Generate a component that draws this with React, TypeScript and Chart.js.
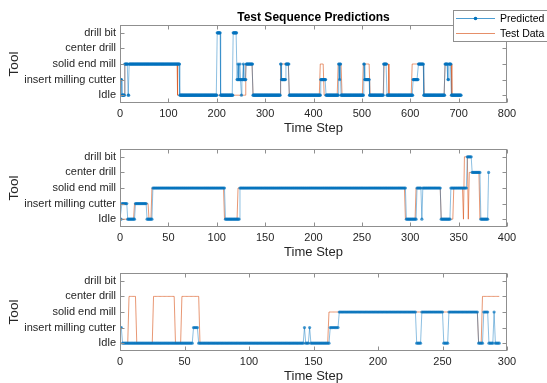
import React, { useEffect, useRef } from "react";
import { Chart, registerables } from "chart.js";

Chart.register(...registerables);

const FONT = '"Liberation Sans", Arial, Helvetica, sans-serif';

// y categories (value 1..5)
const TOOL_LABELS = ["Idle", "insert milling cutter", "solid end mill", "center drill", "drill bit"];
const TOOL_VALUES = [1, 2, 3, 4, 5];

// x axes
const X_MAX = [800, 400, 300];
const X_STEP = [100, 50, 50];

// Series as runs: [first time step, tool value]; each run holds until the next one starts
const pred1Runs = [
  [0, 2], [4, 1], [10, 3], [17, 1], [19, 3], [124, 1], [201, 5], [208, 1], [234, 5], [242, 2],
  [244, 3], [245, 2], [248, 3], [249, 2], [251, 1], [252, 2], [255, 3], [256, 2], [261, 3], [275, 1],
  [332, 3], [334, 2], [343, 3], [350, 1], [415, 2], [426, 1], [452, 3], [454, 2], [455, 3], [457, 1],
  [504, 3], [506, 2], [516, 1], [545, 3], [552, 1], [606, 2], [617, 3], [628, 1], [672, 3], [678, 2],
  [680, 3], [685, 1],
];
const test1Runs = [
  [0, 1], [10, 3], [119, 1], [260, 3], [275, 1], [332, 3], [350, 1], [414, 3], [422, 1], [451, 3],
  [459, 1], [503, 3], [517, 1], [546, 3], [556, 1], [604, 3], [629, 1], [672, 3], [686, 1],
];
const len1 = 706;

const pred2Runs = [
  [0, 1], [2, 2], [8, 1], [16, 2], [28, 1], [34, 3], [109, 1], [124, 3], [296, 1], [307, 3],
  [312, 1], [313, 3], [332, 1], [342, 3], [359, 5], [364, 4], [373, 1], [381, 4],
];
const test2Runs = [
  [0, 1], [15, 2], [30, 1], [33, 3], [108, 1], [122, 3], [295, 1], [306, 3], [332, 1], [345, 3],
  [355, 1], [356, 5], [360, 1], [361, 4], [372, 1],
];
const len2 = 382;

const pred3Runs = [
  [0, 2], [2, 1], [57, 2], [61, 1], [143, 2], [144, 1], [147, 2], [148, 1], [163, 2], [170, 3],
  [230, 1], [234, 3], [251, 1], [255, 3], [278, 1], [282, 3], [286, 1], [290, 3], [291, 1],
];
const test3Runs = [
  [0, 1], [7, 4], [13, 1], [26, 4], [43, 1], [48, 4], [62, 1], [162, 3], [278, 1], [281, 4],
];
const len3 = 295;

function expand(runs: number[][], len: number) {
  const out: { x: number; y: number }[] = [];
  let r = 0;
  for (let i = 0; i < len; i++) {
    while (r + 1 < runs.length && runs[r + 1][0] <= i) r++;
    out.push({ x: i, y: runs[r][1] });
  }
  return out;
}

const boxPlugin = {
  id: "matlabBox",
  afterDraw(chart: any) {
    const { ctx, chartArea: a, scales } = chart;
    ctx.save();
    ctx.strokeStyle = "#8f8f8f";
    ctx.lineWidth = 1;
    const L = Math.round(a.left) + 0.5;
    const R = Math.round(a.right) - 0.5;
    const T = Math.round(a.top) + 0.5;
    const B = Math.round(a.bottom) - 0.5;
    ctx.strokeRect(L, T, R - L, B - T);
    const tl = 4;
    ctx.beginPath();
    scales.x.ticks.forEach((t: any) => {
      const px = Math.round(scales.x.getPixelForValue(t.value)) + 0.5;
      ctx.moveTo(px, B);
      ctx.lineTo(px, B - tl);
      ctx.moveTo(px, T);
      ctx.lineTo(px, T + tl);
    });
    scales.y.ticks.forEach((t: any) => {
      const py = Math.round(scales.y.getPixelForValue(t.value)) + 0.5;
      ctx.moveTo(L, py);
      ctx.lineTo(L + tl, py);
      ctx.moveTo(R, py);
      ctx.lineTo(R - tl, py);
    });
    ctx.stroke();
    ctx.restore();
  },
};

const headerPlugin = {
  id: "header",
  afterDraw(chart: any) {
    const { ctx, chartArea: a } = chart;
    ctx.save();
    // title
    ctx.fillStyle = "#000";
    ctx.font = `bold 12px ${FONT}`;
    ctx.textAlign = "center";
    ctx.textBaseline = "middle";
    ctx.fillText("Test Sequence Predictions", (a.left + a.right) / 2, 17.5);
    // legend
    const bx = 453.5, by = 10.5, bw = 110, bh = 31;
    ctx.fillStyle = "#fff";
    ctx.fillRect(bx, by, bw, bh);
    ctx.strokeStyle = "#8f8f8f";
    ctx.lineWidth = 1;
    ctx.strokeRect(bx, by, bw, bh);
    const rows = [
      { y: 18.5, color: "rgba(0,114,189,0.7)", text: "Predicted", dot: true },
      { y: 33.5, color: "rgba(217,83,25,0.65)", text: "Test Data", dot: false },
    ];
    ctx.font = `10.5px ${FONT}`;
    ctx.textAlign = "left";
    rows.forEach((r) => {
      ctx.strokeStyle = r.color;
      ctx.beginPath();
      ctx.moveTo(456, r.y);
      ctx.lineTo(495, r.y);
      ctx.stroke();
      if (r.dot) {
        ctx.fillStyle = "#0072BD";
        ctx.beginPath();
        ctx.arc(475.5, r.y, 1.8, 0, Math.PI * 2);
        ctx.fill();
      }
      ctx.fillStyle = "#000";
      ctx.fillText(r.text, 500, r.y + 0.5);
    });
    ctx.restore();
  },
};

function makeConfig(pred: any[], test: any[], xMax: number, xStep: number, withHeader: boolean): any {
  return {
    type: "line",
    data: {
      datasets: [
        {
          label: "Predicted",
          data: pred,
          borderColor: "rgba(0,114,189,0.45)",
          borderWidth: 1,
          pointRadius: 1.6,
          pointBackgroundColor: "rgba(0,114,189,0.7)",
          pointBorderWidth: 0,
          pointHoverRadius: 0,
          tension: 0,
          order: 0,
        },
        {
          label: "Test Data",
          data: test,
          borderColor: "rgba(217,83,25,0.6)",
          borderWidth: 1,
          pointRadius: 0,
          pointHoverRadius: 0,
          tension: 0,
          order: 1,
        },
      ],
    },
    options: {
      responsive: false,
      maintainAspectRatio: false,
      animation: false,
      events: [],
      devicePixelRatio: 1,
      layout: { padding: { top: 25, right: 40, bottom: 0, left: 0 } },
      plugins: { legend: { display: false }, tooltip: { enabled: false }, title: { display: false } },
      scales: {
        x: {
          type: "linear",
          min: 0,
          max: xMax,
          ticks: {
            stepSize: xStep,
            color: "#262626",
            font: { family: FONT, size: 11 },
            padding: 4,
            maxRotation: 0,
            autoSkip: false,
          },
          grid: { display: false, drawTicks: false },
          border: { display: false },
          title: {
            display: true,
            text: "Time Step",
            color: "#262626",
            font: { family: FONT, size: 13 },
            padding: { top: 0, bottom: 0 },
          },
          afterFit: (s: any) => {
            s.height = 33;
          },
        },
        y: {
          type: "linear",
          min: 0.5,
          max: 5.5,
          afterBuildTicks: (s: any) => {
            s.ticks = TOOL_VALUES.map((v) => ({ value: v }));
          },
          ticks: {
            callback: (v: any) => TOOL_LABELS[Math.round(Number(v)) - 1] ?? "",
            color: "#262626",
            font: { family: FONT, size: 11 },
            padding: 4,
            autoSkip: false,
          },
          grid: { display: false, drawTicks: false },
          border: { display: false },
          title: {
            display: true,
            text: "Tool",
            color: "#262626",
            font: { family: FONT, size: 13.5 },
            padding: { top: 6, bottom: 0 },
          },
          afterFit: (s: any) => {
            s.width = 120;
          },
        },
      },
    },
    plugins: withHeader ? [boxPlugin, headerPlugin] : [boxPlugin],
  };
}

function SubPlot({ top, pred, test, xMax, xStep, header }: any) {
  const ref = useRef<HTMLCanvasElement>(null);
  useEffect(() => {
    if (!ref.current) return;
    const chart = new Chart(ref.current, makeConfig(pred, test, xMax, xStep, header));
    return () => chart.destroy();
  }, []);
  return (
    <canvas
      ref={ref}
      width={547}
      height={136}
      style={{ position: "absolute", left: 0, top, width: 547, height: 136 }}
    />
  );
}

export default function App() {
  const p1 = expand(pred1Runs, len1);
  const t1 = expand(test1Runs, len1);
  const p2 = expand(pred2Runs, len2);
  const t2 = expand(test2Runs, len2);
  const p3 = expand(pred3Runs, len3);
  const t3 = expand(test3Runs, len3);
  return (
    <div style={{ position: "absolute", left: 0, top: 0, width: 547, height: 383, background: "#fff", overflow: "hidden" }}>
      <SubPlot top={0} pred={p1} test={t1} xMax={X_MAX[0]} xStep={X_STEP[0]} header={true} />
      <SubPlot top={124} pred={p2} test={t2} xMax={X_MAX[1]} xStep={X_STEP[1]} header={false} />
      <SubPlot top={248} pred={p3} test={t3} xMax={X_MAX[2]} xStep={X_STEP[2]} header={false} />
    </div>
  );
}
